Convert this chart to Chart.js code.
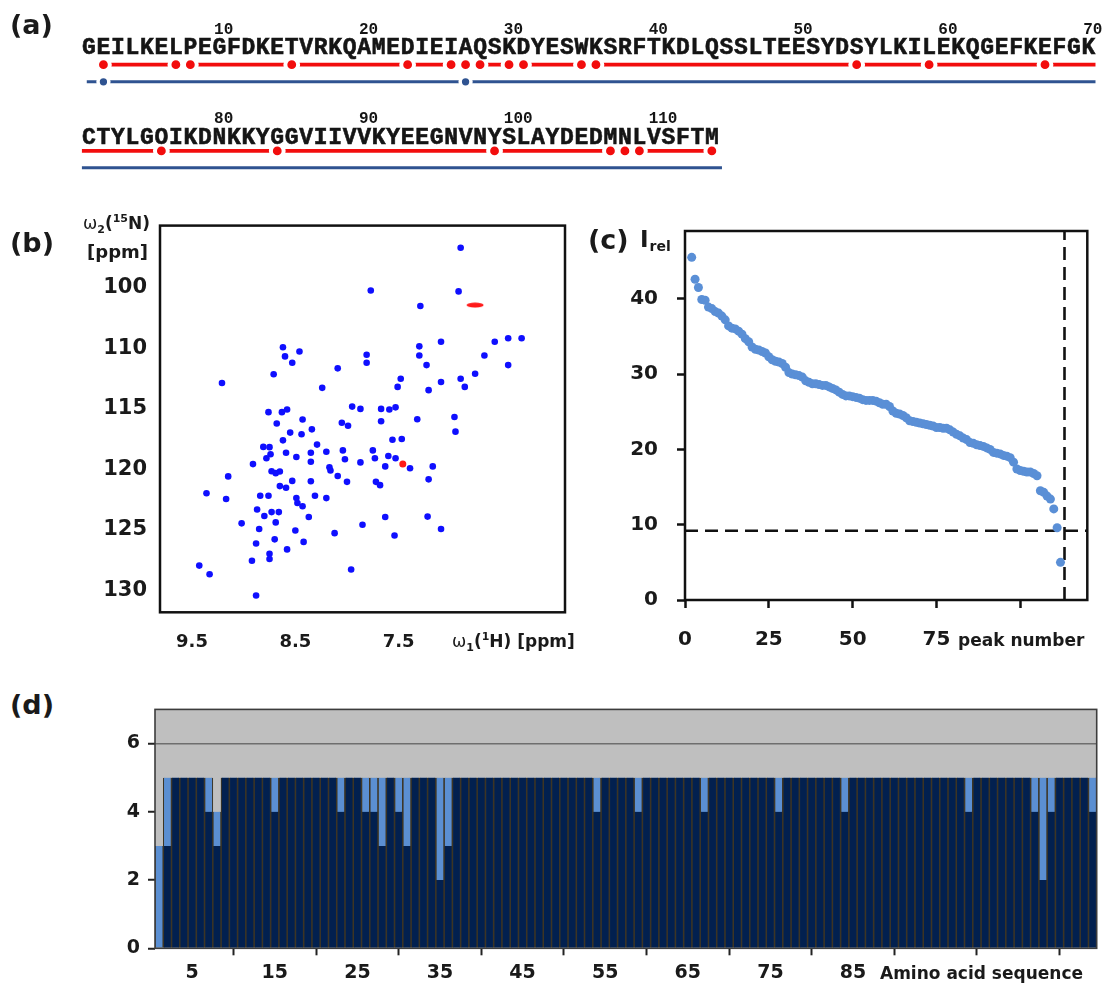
<!DOCTYPE html>
<html>
<head>
<meta charset="utf-8">
<script src="https://cdn.jsdelivr.net/npm/chart.js@4.4.0/dist/chart.umd.min.js"></script>
<style>
  body { margin: 0; background: #fff; width: 1108px; height: 985px; position: relative; overflow: hidden;
         font-family: "DejaVu Sans", sans-serif; color: #1a1a1a; }
  canvas { position: absolute; }
  .txt { position: absolute; font-weight: bold; white-space: nowrap; line-height: 1; }
  .panel { font-size: 27px; }
  .axis { font-size: 17px; }
  sub, sup { font-size: 11px; line-height: 0; }
</style>
</head>
<body>
<canvas id="seqChart" width="1108" height="195" style="left:0;top:0"></canvas>
<canvas id="hsqcChart" width="520" height="460" style="left:60px;top:200px"></canvas>
<canvas id="peakChart" width="528" height="460" style="left:580px;top:200px"></canvas>
<canvas id="seqBarChart" width="1048" height="295" style="left:60px;top:690px"></canvas>

<div class="txt panel" style="left:10px;top:11px">(a)</div>
<div class="txt panel" style="left:10px;top:229px">(b)</div>
<div class="txt panel" style="left:588px;top:226px">(c)</div>
<div class="txt panel" style="left:10px;top:691px">(d)</div>

<div class="txt axis" style="right:958px;top:215px"><span style="font-weight:normal">ω</span><sub>2</sub>(<sup>15</sup>N)</div>
<div class="txt axis" style="right:960px;top:243px;font-size:18px">[ppm]</div>
<div class="txt axis" style="left:452px;top:633px"><span style="font-weight:normal">ω</span><sub>1</sub>(<sup>1</sup>H) [ppm]</div>
<div class="txt" style="left:640px;top:228px;font-size:23px">I<span style="font-size:14px;position:relative;top:4px;left:1px">rel</span></div>
<div class="txt axis" style="left:958px;top:632px">peak number</div>
<div class="txt axis" style="left:880px;top:965px">Amino acid sequence</div>

<script>
Chart.defaults.font.family = '"DejaVu Sans", sans-serif';
Chart.defaults.color = '#1a1a1a';

// ---------- data ----------

// (a) sequence and the residues marked on the two tracks
const sequence = 'GEILKELPEGFDKETVRKQAMEDIEIAQSKDYESWKSRFTKDLQSSLTEESYDSYLKILEKQGEFKEFGK' +
                 'CTYLGOIKDNKKYGGVIIVVKYEEGNVNYSLAYDEDMNLVSFTM';
const redMarks = [2, 7, 8, 15, 23, 26, 27, 28, 30, 31, 35, 36, 54, 59, 67, 76, 84, 99, 107, 108, 109, 114];
const blueMarks = [2, 27];
const seqNumbers = [10, 20, 30, 40, 50, 60, 70, 80, 90, 100, 110];

// (b) 1H-15N peaks [ppm]
const peakH = [6.90, 6.92, 7.77, 7.29, 6.31, 6.44, 6.57, 7.09, 7.30, 8.62, 8.46, 8.60, 7.81, 7.81, 8.53, 7.30,
  6.67, 6.44, 7.23, 8.09, 8.71, 9.21, 6.76, 6.90, 7.48, 7.09, 6.86, 7.51, 8.24, 7.21, 8.76, 8.63, 8.58, 7.95,
  7.87, 7.67, 7.59, 7.53, 7.32, 6.96, 8.43, 8.68, 8.05, 7.99, 7.67, 8.34, 8.55, 6.95, 8.44, 8.62, 7.56, 7.47,
  8.29, 8.81, 8.75, 7.75, 8.04, 8.20, 8.35, 8.59, 8.74, 8.78, 8.49, 8.02, 7.73, 7.87, 8.35, 7.60, 7.53, 7.63,
  7.17, 7.39, 8.91, 8.73, 8.65, 8.69, 8.17, 8.16, 8.09, 9.15, 8.53, 8.35, 8.00, 7.72, 7.68, 7.21, 8.65, 8.59,
  9.36, 8.84, 8.76, 8.31, 8.20, 9.17, 8.49, 8.48, 8.43, 8.87, 8.73, 8.66, 8.80, 8.37, 7.63, 7.22, 8.69, 9.02,
  7.85, 8.85, 7.09, 8.50, 8.12, 7.54, 8.70, 8.88, 8.42, 8.58, 8.75, 8.92, 8.75, 9.43, 9.33, 7.96, 8.88];
const peakN = [101.68, 105.29, 105.21, 106.50, 109.16, 109.16, 109.45, 109.45, 109.83, 109.91, 110.25, 110.66,
  110.52, 111.19, 111.19, 110.58, 110.58, 111.38, 111.38, 111.65, 112.13, 112.86, 112.10, 112.51, 112.51, 112.77,
  113.18, 113.18, 113.26, 113.45, 115.27, 115.27, 115.05, 114.81, 115.00, 115.00, 115.05, 114.87, 115.86, 115.67,
  115.88, 116.21, 116.15, 116.39, 116.02, 116.69, 116.96, 116.88, 117.09, 117.60, 117.55, 117.49, 117.95, 118.14,
  118.16, 118.43, 118.43, 118.54, 118.62, 118.62, 118.75, 119.08, 118.97, 119.16, 119.08, 119.42, 119.37, 118.89,
  119.08, 119.75, 119.75, 119.91, 119.56, 120.15, 120.17, 120.31, 119.83, 120.09, 120.55, 120.58, 120.95, 120.98,
  121.03, 121.03, 121.30, 120.82, 121.38, 121.51, 121.97, 122.18, 122.18, 122.18, 122.37, 122.45, 122.37, 122.78,
  123.04, 123.31, 123.53, 123.53, 123.85, 123.93, 123.93, 123.90, 124.38, 124.46, 124.57, 124.92, 124.92, 125.05,
  125.27, 125.46, 125.78, 126.13, 125.99, 126.61, 126.98, 127.55, 127.41, 127.95, 128.67, 128.27, 130.42];
const markedH = [6.76, 7.46];
const markedN = [106.42, 119.56];
const hTicks = [9.5, 8.5, 7.5];
const nTicks = [105, 110, 115, 120, 125, 130];
const nTickLabels = ['100', '110', '115', '120', '125', '130'];

// (c) relative peak intensities, sorted, starting at peak 2
const firstPeak = 2;
const relIntensity = [45.5, 42.6, 41.5, 39.9, 39.8, 38.9, 38.7, 38.3, 38.1, 37.7, 37.2, 36.4, 36.1, 36.0, 35.7,
  35.3, 34.7, 34.3, 33.6, 33.3, 33.2, 33.0, 32.8, 32.3, 31.9, 31.7, 31.6, 31.4, 30.9, 30.2, 30.0, 29.9, 29.8,
  29.6, 29.1, 28.9, 28.7, 28.7, 28.6, 28.5, 28.5, 28.3, 28.1, 27.9, 27.6, 27.3, 27.1, 27.1, 27.0, 26.9, 26.8,
  26.6, 26.5, 26.5, 26.5, 26.4, 26.2, 26.0, 26.0, 25.7, 25.1, 24.8, 24.7, 24.5, 24.2, 23.8, 23.7, 23.6, 23.5,
  23.4, 23.3, 23.2, 23.1, 22.9, 22.9, 22.8, 22.8, 22.6, 22.3, 22.0, 21.8, 21.5, 21.3, 20.9, 20.8, 20.6, 20.5,
  20.4, 20.2, 20.0, 19.6, 19.5, 19.4, 19.2, 19.1, 18.9, 18.3, 17.4, 17.2, 17.1, 17.0, 17.0, 16.8, 16.5, 14.5,
  14.3, 13.8, 13.4, 12.1, 9.6, 5.0];
const intensityCutoff = 9.2;
const peakCutoff = 113.2;
const peakTicks = [0, 25, 50, 75, 100];
const intensityTicks = [0, 10, 20, 30, 40];

// (d) per residue: assigned (dark) and observed (light) counts
const assignedCount = [
  0, 3, 5, 5, 5, 5, 4, 3, 5, 5,
  5, 5, 5, 5, 4, 5, 5, 5, 5, 5,
  5, 5, 4, 5, 5, 4, 4, 3, 5, 4,
  3, 5, 5, 5, 2, 3, 5, 5, 5, 5,
  5, 5, 5, 5, 5, 5, 5, 5, 5, 5,
  5, 5, 5, 4, 5, 5, 5, 5, 4, 5,
  5, 5, 5, 5, 5, 5, 4, 5, 5, 5,
  5, 5, 5, 5, 5, 4, 5, 5, 5, 5,
  5, 5, 5, 4, 5, 5, 5, 5, 5, 5,
  5, 5, 5, 5, 5, 5, 5, 5, 4, 5,
  5, 5, 5, 5, 5, 5, 4, 2, 4, 5,
  5, 5, 5, 4];
const observedCount = [
  3, 5, 5, 5, 5, 5, 5, 4, 5, 5,
  5, 5, 5, 5, 5, 5, 5, 5, 5, 5,
  5, 5, 5, 5, 5, 5, 5, 5, 5, 5,
  5, 5, 5, 5, 5, 5, 5, 5, 5, 5,
  5, 5, 5, 5, 5, 5, 5, 5, 5, 5,
  5, 5, 5, 5, 5, 5, 5, 5, 5, 5,
  5, 5, 5, 5, 5, 5, 5, 5, 5, 5,
  5, 5, 5, 5, 5, 5, 5, 5, 5, 5,
  5, 5, 5, 5, 5, 5, 5, 5, 5, 5,
  5, 5, 5, 5, 5, 5, 5, 5, 5, 5,
  5, 5, 5, 5, 5, 5, 5, 5, 5, 5,
  5, 5, 5, 5];
const residueTicks = [5, 15, 25, 35, 45, 55, 65, 75, 85, 95, 105];

// ---------- helpers ----------

// filled chart area and a frame around it
const framePlugin = {
  id: 'frame',
  beforeDraw(chart, args, opts) {
    if (!opts.fill) return;
    const a = chart.chartArea, ctx = chart.ctx;
    ctx.save();
    ctx.fillStyle = opts.fill;
    ctx.fillRect(a.left, a.top, a.width, a.height);
    ctx.restore();
  },
  afterDraw(chart, args, opts) {
    const a = chart.chartArea, ctx = chart.ctx;
    ctx.save();
    ctx.strokeStyle = opts.color || '#111';
    ctx.lineWidth = opts.width || 2;
    ctx.strokeRect(a.left, a.top, a.width, a.height);
    ctx.restore();
  }
};

function fixedWidth(w) { return s => { s.width = w; }; }
function fixedHeight(h) { return s => { s.height = h; }; }
function tickList(list) { return s => { s.ticks = list.map(v => ({ value: v })); }; }

// ---------- (a) sequence tracks ----------

const rowLayout = [
  { start: 0, len: 70, num: 26, letters: 49, red: 60.7, blue: 80 },
  { start: 70, len: 44, num: 126, letters: 149.8, red: 157.3, blue: 176 }
];

function rowOf(res) { return res > 70.5 ? rowLayout[1] : rowLayout[0]; }
function trackPoint(res, track, row) {
  row = row || rowOf(res);
  return { x: res - row.start, y: row[track] };
}

const seqTextPlugin = {
  id: 'seqText',
  afterDatasetsDraw(chart) {
    const { ctx, scales: { x, y } } = chart;
    ctx.save();
    ctx.fillStyle = '#151515';
    ctx.strokeStyle = '#151515';
    ctx.lineWidth = 0.6;
    ctx.textBaseline = 'alphabetic';
    ctx.font = 'bold 23px "Liberation Mono"';
    ctx.textAlign = 'center';
    rowLayout.forEach(row => {
      for (let i = 1; i <= row.len; i++) {
        const px = x.getPixelForValue(i), py = y.getPixelForValue(row.letters);
        ctx.fillText(sequence[row.start + i - 1], px, py);
        ctx.strokeText(sequence[row.start + i - 1], px, py);
      }
    });
    ctx.font = 'bold 16px "Liberation Mono"';
    ctx.textAlign = 'left';
    seqNumbers.forEach(n => {
      const row = rowOf(n);
      ctx.fillText(String(n), x.getPixelForValue(n - row.start - 0.5) + 2, y.getPixelForValue(row.num));
    });
    ctx.restore();
  }
};

function trackLine(from, to, track, row, color, width) {
  return {
    data: [trackPoint(from, track, row), trackPoint(to, track, row)],
    showLine: true, pointRadius: 0, borderColor: color, borderWidth: width, order: 2
  };
}

const RED = '#f20d0d';
const NAVY_LINE = '#2f5391';

new Chart(document.getElementById('seqChart'), {
  type: 'scatter',
  data: {
    datasets: [
      { data: redMarks.map(r => trackPoint(r, 'red')), backgroundColor: RED, borderColor: '#fff',
        borderWidth: 4, pointRadius: 6.4, order: 0 },
      { data: blueMarks.map(r => trackPoint(r, 'blue')), backgroundColor: NAVY_LINE, borderColor: '#fff',
        borderWidth: 3.5, pointRadius: 5.4, order: 0 },
      trackLine(2, 70.5, 'red', rowLayout[0], RED, 3.6),
      trackLine(70.5, 114, 'red', rowLayout[1], RED, 3.6),
      trackLine(0.85, 70.5, 'blue', rowLayout[0], NAVY_LINE, 3),
      trackLine(70.5, 114.7, 'blue', rowLayout[1], NAVY_LINE, 3)
    ]
  },
  options: {
    responsive: false, animation: false, events: [],
    layout: { padding: { left: 81.7, right: 12.3, top: 0, bottom: 0 } },
    plugins: { legend: { display: false }, tooltip: { enabled: false } },
    scales: {
      x: { type: 'linear', display: false, min: 0.5, max: 70.5 },
      y: { type: 'linear', display: false, min: 0, max: 195, reverse: true }
    }
  },
  plugins: [seqTextPlugin]
});

// ---------- (b) HSQC spectrum ----------

// elongated red peak
const streak = document.createElement('canvas');
streak.width = 18; streak.height = 6;
const sctx = streak.getContext('2d');
sctx.fillStyle = '#ff1a1a';
sctx.beginPath();
sctx.ellipse(9, 3, 8.5, 2.4, 0, 0, Math.PI * 2);
sctx.fill();

new Chart(document.getElementById('hsqcChart'), {
  type: 'scatter',
  data: {
    datasets: [
      { data: markedH.map((h, i) => ({ x: h, y: markedN[i] })), backgroundColor: '#ff1a1a',
        borderWidth: 0, pointRadius: 3.5, pointStyle: [streak, 'circle'] },
      { data: peakH.map((h, i) => ({ x: h, y: peakN[i] })), backgroundColor: '#0f0fff',
        borderWidth: 0, pointRadius: 3.3 }
    ]
  },
  options: {
    responsive: false, animation: false, events: [],
    layout: { padding: { top: 15, right: 15, left: 0, bottom: 0 } },
    plugins: { legend: { display: false }, tooltip: { enabled: false }, frame: { color: '#111', width: 2.5 } },
    scales: {
      x: {
        type: 'linear', min: 5.89, max: 9.81, reverse: true,
        afterBuildTicks: tickList(hTicks), afterFit: fixedHeight(47.7),
        grid: { display: false, drawTicks: false }, border: { display: false },
        ticks: { padding: 19, font: { size: 18, weight: 'bold' }, callback: v => v.toFixed(1) }
      },
      y: {
        type: 'linear', min: 99.85, max: 131.81, reverse: true,
        afterBuildTicks: tickList(nTicks), afterFit: fixedWidth(100),
        grid: { display: false, drawTicks: false }, border: { display: false },
        ticks: { padding: 13, font: { size: 21, weight: 'bold' }, callback: (v, i) => nTickLabels[i] }
      }
    }
  },
  plugins: [framePlugin]
});

// ---------- (c) sorted intensities ----------

const tickMarks = { display: true, drawOnChartArea: false, drawTicks: true, tickLength: 8, tickWidth: 2.5, tickColor: '#111' };

new Chart(document.getElementById('peakChart'), {
  type: 'scatter',
  data: {
    datasets: [
      { data: relIntensity.map((v, i) => ({ x: firstPeak + i, y: v })), backgroundColor: '#5a8fd6',
        borderWidth: 0, pointRadius: 4.5, order: 0 },
      { data: [{ x: 0, y: intensityCutoff }, { x: 120, y: intensityCutoff }], showLine: true, pointRadius: 0,
        borderColor: '#111', borderWidth: 2.6, borderDash: [13, 7], order: 1 },
      { data: [{ x: peakCutoff, y: 0 }, { x: peakCutoff, y: 49 }], showLine: true, pointRadius: 0,
        borderColor: '#111', borderWidth: 2.6, borderDash: [13, 7], order: 1 }
    ]
  },
  options: {
    responsive: false, animation: false, events: [],
    layout: { padding: { top: 16.7, right: 20.7, left: 0, bottom: 0 } },
    plugins: { legend: { display: false }, tooltip: { enabled: false }, frame: { color: '#111', width: 2.5 } },
    scales: {
      x: {
        type: 'linear', min: 0, max: 120,
        afterBuildTicks: tickList(peakTicks), afterFit: fixedHeight(60),
        grid: tickMarks, border: { display: false },
        ticks: { padding: 20, font: { size: 20, weight: 'bold' }, callback: v => (v === 100 ? '' : v) }
      },
      y: {
        type: 'linear', min: 0, max: 49,
        afterBuildTicks: tickList(intensityTicks), afterFit: fixedWidth(105),
        grid: tickMarks, border: { display: false },
        ticks: { padding: 19, font: { size: 20, weight: 'bold' } }
      }
    }
  },
  plugins: [framePlugin]
});

// ---------- (d) per-residue bars ----------

const barEdge = { left: 1.1, right: 1.1, top: 0, bottom: 0 };

new Chart(document.getElementById('seqBarChart'), {
  type: 'bar',
  data: {
    datasets: [
      { data: assignedCount.map((v, i) => ({ x: i + 1, y: v })), backgroundColor: '#02204f',
        borderColor: '#3d3524', borderWidth: barEdge,
        grouped: false, barPercentage: 1, categoryPercentage: 1 },
      { data: observedCount.map((v, i) => ({ x: i + 1, y: v })), backgroundColor: '#5b8fd2',
        borderColor: '#3d3524', borderWidth: barEdge,
        grouped: false, barPercentage: 1, categoryPercentage: 1 }
    ]
  },
  options: {
    responsive: false, animation: false, events: [],
    layout: { padding: { top: 16.7, right: 11.3, left: 0, bottom: 0 } },
    plugins: { legend: { display: false }, tooltip: { enabled: false },
               frame: { color: '#3c3c3c', width: 1.6, fill: '#bfbfbf' } },
    scales: {
      x: {
        type: 'linear', min: 0.5, max: 114.5, offset: false,
        afterBuildTicks: tickList(residueTicks), afterFit: fixedHeight(36.7),
        grid: { display: true, drawOnChartArea: false, drawTicks: true, tickLength: 7, tickWidth: 2, tickColor: '#222' },
        border: { display: false },
        ticks: { padding: 6, font: { size: 19, weight: 'bold' }, callback: v => (v <= 85 ? v : '') }
      },
      y: {
        type: 'linear', min: 0, max: 7, afterFit: fixedWidth(95),
        grid: {
          display: true, drawOnChartArea: true, lineWidth: 1.5, drawTicks: true, tickLength: 7, tickWidth: 2,
          color: c => (c.tick && c.tick.value === 6 ? '#6e6e6e' : 'rgba(0,0,0,0)'),
          tickColor: c => (c.tick && c.tick.value % 2 === 0 ? '#222' : 'rgba(0,0,0,0)')
        },
        border: { display: false },
        ticks: { stepSize: 1, padding: 8, font: { size: 19, weight: 'bold' }, callback: v => (v % 2 === 0 ? v : '') }
      }
    }
  },
  plugins: [framePlugin]
});
</script>
</body>
</html>
